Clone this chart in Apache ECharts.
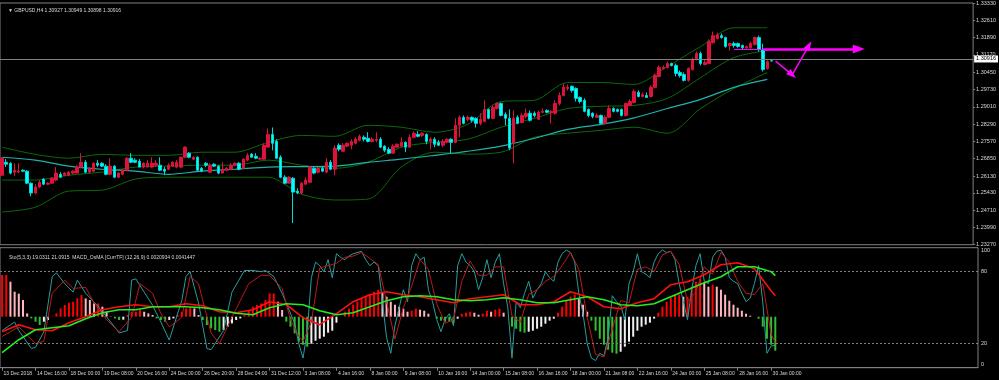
<!DOCTYPE html>
<html><head><meta charset="utf-8">
<script src="https://cdn.jsdelivr.net/npm/echarts@6/dist/echarts.min.js"></script>
<style>html,body{margin:0;padding:0;background:#000;}#c{width:999px;height:380px;}</style>
</head><body><div id="c"></div>
<script>
// ---------- data ----------
const TOTAL_SLOTS = 234;          // bars + right-hand empty space (chart shift)
const labelEvery = 8;
const timeLabels = ['13 Dec 2018','14 Dec 16:00','18 Dec 00:00','19 Dec 08:00','20 Dec 16:00','24 Dec 00:00','26 Dec 20:00','28 Dec 04:00','31 Dec 12:00','3 Jan 08:00','4 Jan 16:00','8 Jan 00:00','9 Jan 08:00','10 Jan 16:00','14 Jan 00:00','15 Jan 08:00','16 Jan 16:00','18 Jan 00:00','21 Jan 08:00','22 Jan 16:00','24 Jan 00:00','25 Jan 08:00','28 Jan 16:00','30 Jan 00:00'];
const priceTicks = [1.33330,1.32610,1.31890,1.31170,1.30450,1.29730,1.29010,1.28290,1.27570,1.26850,1.26130,1.25430,1.24710,1.23990,1.23270];
const stochTicks = [0,20,80,100];
const currentPrice = 1.30916;

const opens = [
1.2616,1.2670,1.2666,1.2629,1.2629,1.2637,1.2633,1.2583,1.2542,1.2567,
1.2600,1.2579,1.2583,1.2596,1.2620,1.2616,1.2616,1.2625,1.2625,1.2650,
1.2670,1.2629,1.2633,1.2666,1.2666,1.2654,1.2620,1.2654,1.2608,1.2620,
1.2637,1.2687,1.2679,1.2674,1.2650,1.2650,1.2650,1.2658,1.2658,1.2641,
1.2641,1.2654,1.2650,1.2650,1.2691,1.2708,1.2683,1.2691,1.2645,1.2666,
1.2629,1.2662,1.2654,1.2625,1.2637,1.2641,1.2658,1.2666,1.2645,1.2679,
1.2704,1.2695,1.2683,1.2683,1.2733,1.2786,1.2757,1.2691,1.2608,1.2583,
1.2604,1.2550,1.2542,1.2579,1.2587,1.2645,1.2629,1.2645,1.2629,1.2670,
1.2641,1.2741,1.2716,1.2737,1.2741,1.2749,1.2762,1.2774,1.2770,1.2757,
1.2762,1.2766,1.2737,1.2724,1.2708,1.2733,1.2737,1.2753,1.2733,1.2774,
1.2786,1.2782,1.2786,1.2757,1.2766,1.2753,1.2741,1.2753,1.2766,1.2753,
1.2824,1.2857,1.2849,1.2857,1.2853,1.2832,1.2840,1.2890,1.2853,1.2894,
1.2915,1.2869,1.2853,1.2749,1.2857,1.2836,1.2861,1.2874,1.2874,1.2849,
1.2878,1.2886,1.2878,1.2874,1.2915,1.2948,1.2977,1.2986,1.2977,1.2940,
1.2928,1.2890,1.2874,1.2857,1.2865,1.2832,1.2857,1.2894,1.2890,1.2890,
1.2865,1.2907,1.2919,1.2961,1.2944,1.2948,1.2944,1.2982,1.3027,1.3060,
1.3065,1.3081,1.3073,1.3044,1.3035,1.3011,1.3056,1.3098,1.3123,1.3077,
1.3081,1.3168,1.3185,1.3197,1.3189,1.3156,1.3164,1.3164,1.3156,1.3147,
1.3147,1.3160,1.3189,1.3139,1.3060,1.30927];
const closes = [
1.2687,1.2662,1.2625,1.2637,1.2633,1.2633,1.2583,1.2542,1.2567,1.2587,
1.2579,1.2583,1.2604,1.2625,1.2608,1.2625,1.2629,1.2633,1.2650,1.2670,
1.2629,1.2645,1.2666,1.2658,1.2654,1.2620,1.2654,1.2608,1.2625,1.2637,
1.2687,1.2670,1.2670,1.2650,1.2666,1.2666,1.2666,1.2666,1.2637,1.2633,
1.2658,1.2670,1.2670,1.2691,1.2733,1.2691,1.2691,1.2637,1.2633,1.2658,
1.2658,1.2654,1.2625,1.2641,1.2645,1.2658,1.2666,1.2641,1.2683,1.2699,
1.2691,1.2687,1.2687,1.2741,1.2786,1.2749,1.2687,1.2608,1.2583,1.2608,
1.2546,1.2542,1.2583,1.2596,1.2650,1.2625,1.2645,1.2633,1.2670,1.2641,
1.2729,1.2724,1.2741,1.2749,1.2757,1.2766,1.2778,1.2766,1.2757,1.2766,
1.2766,1.2733,1.2720,1.2708,1.2737,1.2745,1.2753,1.2733,1.2774,1.2791,
1.2778,1.2791,1.2757,1.2766,1.2745,1.2741,1.2757,1.2766,1.2753,1.2824,
1.2857,1.2832,1.2857,1.2845,1.2832,1.2849,1.2890,1.2853,1.2899,1.2915,
1.2865,1.2853,1.2729,1.2853,1.2832,1.2865,1.2874,1.2845,1.2865,1.2878,
1.2882,1.2878,1.2882,1.2915,1.2948,1.2982,1.2982,1.2969,1.2936,1.2923,
1.2882,1.2865,1.2861,1.2865,1.2832,1.2857,1.2894,1.2882,1.2882,1.2865,
1.2915,1.2923,1.2965,1.2944,1.2952,1.2940,1.2982,1.3031,1.3065,1.3065,
1.3081,1.3073,1.3040,1.3031,1.3011,1.3060,1.3098,1.3123,1.3081,1.3085,
1.3172,1.3197,1.3201,1.3189,1.3152,1.3164,1.3156,1.3152,1.3147,1.3152,
1.3164,1.3189,1.3139,1.3056,1.3089,1.30916];
const lows = [
1.2612,1.2650,1.2620,1.2612,1.2625,1.2629,1.2579,1.2529,1.2537,1.2562,
1.2575,1.2575,1.2579,1.2591,1.2604,1.2612,1.2612,1.2620,1.2625,1.2645,
1.2625,1.2625,1.2629,1.2650,1.2650,1.2616,1.2616,1.2604,1.2604,1.2616,
1.2633,1.2666,1.2666,1.2650,1.2645,1.2650,1.2645,1.2650,1.2633,1.2616,
1.2637,1.2650,1.2645,1.2645,1.2687,1.2687,1.2679,1.2633,1.2629,1.2650,
1.2625,1.2650,1.2620,1.2625,1.2633,1.2637,1.2654,1.2637,1.2641,1.2674,
1.2691,1.2683,1.2679,1.2679,1.2733,1.2720,1.2683,1.2604,1.2579,1.2583,
1.2417,1.2537,1.2537,1.2575,1.2583,1.2620,1.2625,1.2629,1.2625,1.2637,
1.2616,1.2716,1.2712,1.2733,1.2724,1.2745,1.2757,1.2757,1.2753,1.2753,
1.2753,1.2729,1.2712,1.2704,1.2708,1.2733,1.2733,1.2712,1.2733,1.2770,
1.2774,1.2774,1.2745,1.2724,1.2733,1.2737,1.2733,1.2749,1.2708,1.2749,
1.2774,1.2828,1.2840,1.2836,1.2815,1.2824,1.2836,1.2849,1.2849,1.2890,
1.2861,1.2824,1.2720,1.2666,1.2828,1.2832,1.2853,1.2840,1.2857,1.2845,
1.2874,1.2874,1.2832,1.2869,1.2907,1.2944,1.2969,1.2961,1.2923,1.2915,
1.2878,1.2857,1.2853,1.2857,1.2828,1.2828,1.2853,1.2878,1.2878,1.2861,
1.2861,1.2903,1.2915,1.2940,1.2940,1.2940,1.2940,1.2977,1.3023,1.3056,
1.3060,1.3069,1.3027,1.3023,1.3006,1.3006,1.3052,1.3094,1.3073,1.3073,
1.3081,1.3164,1.3181,1.3185,1.3147,1.3135,1.3147,1.3147,1.3139,1.3143,
1.3143,1.3156,1.3131,1.3048,1.3056,1.30898];
const highs = [
1.2691,1.2683,1.2670,1.2666,1.2666,1.2641,1.2637,1.2587,1.2579,1.2596,
1.2604,1.2587,1.2608,1.2650,1.2629,1.2629,1.2633,1.2637,1.2658,1.2708,
1.2679,1.2650,1.2670,1.2679,1.2670,1.2662,1.2687,1.2658,1.2629,1.2641,
1.2691,1.2708,1.2687,1.2683,1.2670,1.2679,1.2691,1.2679,1.2691,1.2650,
1.2666,1.2674,1.2679,1.2695,1.2737,1.2712,1.2695,1.2695,1.2650,1.2670,
1.2666,1.2666,1.2658,1.2670,1.2650,1.2666,1.2670,1.2670,1.2687,1.2708,
1.2708,1.2708,1.2691,1.2749,1.2811,1.2815,1.2766,1.2699,1.2616,1.2612,
1.2608,1.2562,1.2587,1.2608,1.2654,1.2650,1.2650,1.2650,1.2687,1.2679,
1.2741,1.2749,1.2749,1.2753,1.2766,1.2774,1.2786,1.2782,1.2795,1.2774,
1.2795,1.2774,1.2741,1.2733,1.2745,1.2749,1.2774,1.2757,1.2786,1.2799,
1.2799,1.2795,1.2791,1.2774,1.2774,1.2762,1.2766,1.2770,1.2770,1.2853,
1.2865,1.2865,1.2865,1.2861,1.2857,1.2874,1.2928,1.2894,1.2907,1.2919,
1.2919,1.2878,1.2890,1.2886,1.2865,1.2874,1.2894,1.2886,1.2882,1.2886,
1.2894,1.2890,1.2886,1.2928,1.2961,1.2998,1.2994,1.2990,1.2982,1.2944,
1.2936,1.2894,1.2878,1.2874,1.2869,1.2865,1.2907,1.2899,1.2894,1.2894,
1.2919,1.2932,1.2973,1.2969,1.2961,1.2961,1.2990,1.3040,1.3073,1.3073,
1.3089,1.3085,1.3081,1.3052,1.3044,1.3065,1.3106,1.3131,1.3131,1.3098,
1.3181,1.3214,1.3210,1.3206,1.3193,1.3168,1.3172,1.3168,1.3160,1.3156,
1.3172,1.3193,1.3197,1.3164,1.3094,1.30949];

// Bollinger bands and moving average, read every 8 bars
const lineStep = 8;
const bbUpper  = [1.2733,1.2703,1.2687,1.2703,1.2699,1.2699,1.2712,1.2712,1.2753,1.2782,1.2778,1.2824,1.2816,1.2795,1.2828,1.2923,1.2928,1.3002,1.3002,1.2994,1.3069,1.3152,1.3230,1.3230];
const bbMiddle = [1.2596,1.2596,1.2616,1.2629,1.2650,1.2654,1.2658,1.2658,1.2679,1.2658,1.2645,1.2670,1.2733,1.2753,1.2766,1.2816,1.2853,1.2894,1.2903,1.2907,1.2936,1.3023,1.3106,1.3135];
const bbLower  = [1.2463,1.2483,1.2550,1.2554,1.2600,1.2608,1.2608,1.2608,1.2608,1.2537,1.2513,1.2517,1.2650,1.2712,1.2704,1.2712,1.2774,1.2791,1.2803,1.2816,1.2791,1.2894,1.2977,1.3044];
const maLine   = [1.2691,1.2679,1.2654,1.2641,1.2633,1.2620,1.2633,1.2641,1.2650,1.2652,1.2654,1.2670,1.2683,1.2699,1.2716,1.2737,1.2770,1.2807,1.2828,1.2855,1.2894,1.2932,1.2982,1.3015];

// Stochastic (5,3,3): [bar, value]
const stochMain = [[0,31],[3,38],[4,31],[7,16],[8,17],[10,30],[12,76],[13,79],[15,70],[17,63],[18,73],[20,62],[23,51],[26,38],[28,29],[30,31],[31,73],[32,74],[34,63],[36,52],[38,38],[40,23],[43,56],[44,76],[45,80],[47,54],[49,16],[50,15],[53,31],[55,63],[58,81],[60,81],[62,80],[63,81],[65,76],[67,62],[70,37],[71,20],
[72,8],[73,30],[74,75],[75,88],[76,85],[77,80],[78,90],[79,75],[80,95],[81,92],[82,90],[83,93],[84,95],[86,97],[87,90],[88,85],[89,88],[90,85],[91,55],[92,25],[93,12],[94,35],[95,50],[96,65],[97,55],[98,85],[99,95],[100,90],[101,92],[102,65],[103,55],[104,40],[105,30],[106,40],[107,45],[108,35],[109,85],[110,95],[111,88],[112,85],[113,80],[114,65],[115,75],[116,90],[117,75],[118,88],[119,95],[120,70],[121,50],[122,8],[123,55],[124,50],[125,62],[126,72],[127,58],[128,65],[129,70],[130,80],[131,75],[132,72],[133,88],[134,95],[135,98],[136,96],[137,88],[138,62],[139,45],[140,20],[141,8],[142,6],[143,12],[144,10],[145,25],[146,60],[147,55],[148,52],[149,40],[150,70],[151,80],[152,95],[153,80],[154,78],[155,75],[156,88],[157,95],[158,98],[159,96],[160,97],[161,90],[162,70],[163,55],[164,40],[165,65],[166,85],[167,95],[168,72],[169,70],[170,92],[171,97],[172,98],[173,92],[174,75],[175,72],[176,70],[177,62],[178,55],[179,58],[180,70],[181,85],[182,55],[183,12],[184,18],[185,19]];
const stochSignal = [[0,26],[4,34],[8,20],[10,22],[12,62],[15,73],[17,66],[20,67],[22,54],[25,40],[28,30],[31,42],[33,70],[36,62],[38,45],[40,34],[43,42],[45,76],[47,70],[50,29],[52,20],[55,42],[59,70],[62,77],[64,77],[67,66],[69,40],[71,26],
[72,22],[74,38],[76,83],[78,85],[80,87],[82,92],[84,93],[86,96],[88,91],[90,86],[92,55],[94,24],[96,50],[98,68],[100,90],[102,82],[104,53],[106,37],[108,40],[110,72],[112,89],[114,77],[116,77],[118,84],[120,84],[122,43],[124,38],[126,61],[128,65],[130,72],[132,76],[134,85],[136,96],[138,82],[140,42],[142,11],[144,9],[146,32],[148,56],[150,54],[152,82],[154,84],[156,80],[158,94],[160,97],[162,86],[164,55],[166,63],[168,84],[170,78],[172,96],[174,88],[176,72],[178,62],[180,61],[182,70],[184,28],[185,21]];

// MACD (12,26,9) in pips: [bar, value]
const macdMain = [[0,-15],[4,-8],[8,-13],[12,-14],[16,-6],[20,0],[24,7],[28,10],[32,12],[36,10],[40,10],[44,13],[48,11],[52,5],[56,4],[60,7],[64,15],[68,12],[72,-1],[76,-8],[80,3],[84,15],[88,22],[92,25],[96,22],[100,20],[104,17],[108,14],[112,18],[116,20],[120,22],[124,12],[128,12],[132,15],[136,25],[140,20],[144,10],[148,8],[152,14],[156,18],[160,32],[164,35],[168,42],[172,52],[176,54],[180,48],[184,26],[185,21]];
const macdSignal = [[0,-36],[4,-23],[8,-13],[12,-11],[16,-9],[20,-2],[24,4],[28,7],[32,7],[36,10],[40,10],[44,10],[48,9],[52,7],[56,3.5],[60,2],[64,9],[68,13],[72,12],[76,6],[80,2],[84,4],[88,10],[92,16],[96,20],[100,21],[104,20],[108,17],[112,16],[116,17],[120,19],[124,17],[128,14],[132,14],[136,17],[140,20],[144,17],[148,12],[152,11],[156,13],[160,20],[164,27],[168,34],[172,40],[176,50],[180,50],[184,45],[185,41]];
// OsMA histogram, one value per bar (pips)
const osma = [
41.7,41.7,35,25,23,16.7,3.3,-1.7,-5,-8.3,
-5,-3.3,0.3,3.3,8.3,11.7,14,15,18.3,21.7,
18.3,16.7,13.3,13.3,10,5,0.3,-1.7,-3.3,-3,
1.7,5,5,6.7,5,3.3,1.7,-1.7,-3.3,-5,
-3.3,-1.7,1.7,5,8.3,9.3,8.3,1.7,-3.3,-8.3,
-11.7,-13.3,-15,-13.3,-10,-6.7,-3.3,-1.7,1.7,6.7,
10,11.7,13.3,16.7,23.3,23.3,15,6.7,-5,-10,
-16.7,-25,-28,-30,-27,-24,-22,-20,-16,-14,
-6,0,5,8,12,15,19,21,23,25,
27,24,20,15,12,10,8,5,6,8,
7,6,3,0,-2,-4,-5,-5,-6,-2,
3,4,5,4,2,3,6,5,7,8,
4,0,-10,-12,-15,-16,-15,-14,-12,-10,
-7,-4,-2,4,10,16,20,22,18,12,
5,-4,-14,-22,-28,-33,-36,-37,-35,-30,
-25,-20,-14,-10,-8,-6,-2,4,10,15,
19,22,22,20,20,30,35,38,34,30,
32,30,27,22,16,12,9,6,3,1,
0,-2,-10,-22,-28,-34];

// hand-drawn magenta objects: [fromBar, fromPrice, toBar, toPrice, width, arrowW, arrowL]
const drawSegments = [
  [176, 1.3142, 183, 1.3142, 1, 0, 0],
  [183, 1.3142, 206, 1.3142, 2.5, 9, 12],
  [186, 1.3091, 190, 1.3034, 1.5, 7, 10],
  [190, 1.3034, 194, 1.3156, 1.5, 7, 10]
];

// ---------- build ----------
const N = TOTAL_SLOTS;
const cats = Array.from({length: N}, (_, i) => 'b' + i);
const candles = opens.map((o, i) => [o, closes[i], lows[i], highs[i]]);
function spread(arr, step) {
  const out = new Array(N).fill(null);
  arr.forEach((v, k) => { out[k * step] = v; });
  return out;
}
function place(pairs) {
  const out = new Array(N).fill(null);
  pairs.forEach(([i, v]) => { out[i] = v; });
  return out;
}
const osmaBars = osma.map((v, i) => {
  const prev = i > 0 ? osma[i - 1] : v;
  let c;
  if (v >= 0) c = v >= prev ? '#ff0000' : '#ffb6c1';
  else c = v <= prev ? '#2fbf2f' : '#f0f0f0';
  return {value: v, itemStyle: {color: c}};
});

const FONT = '"Liberation Sans", Arial, sans-serif';
const txt = '#d8d8d8';
const grey = '#808080';
const labelInt = (i) => i % labelEvery === 0 && i / labelEvery < timeLabels.length;

const chart = echarts.init(document.getElementById('c'), null, {renderer: 'canvas'});
const bandSeries = (name, data, color, w) => ({
  name, type: 'line', xAxisIndex: 0, yAxisIndex: 0, data: spread(data, lineStep),
  connectNulls: true, showSymbol: false, symbol: 'none', smooth: 0.3,
  lineStyle: {color, width: w}, silent: true, z: 2
});
const indLine = (name, data, yIdx, color, w, z) => ({
  name, type: 'line', xAxisIndex: 1, yAxisIndex: yIdx, data: place(data),
  connectNulls: true, showSymbol: false, symbol: 'none', smooth: false,
  lineStyle: {color, width: w}, silent: true, z
});

chart.setOption({
  backgroundColor: '#000',
  animation: false,
  textStyle: {fontFamily: FONT},
  title: [
    {text: '\u25BC GBPUSD,H4 1.30927 1.30949 1.30898 1.30916', left: 3, top: 3.5,
     textStyle: {color: txt, fontSize: 5, fontWeight: 'normal', fontFamily: FONT}},
    {text: 'Sto(5,3,3) 19.0311 21.0915  MACD_OsMA [CurrTF] (12,26,9) 0.0020934 0.0041447', left: 4, top: 250,
     textStyle: {color: txt, fontSize: 5, fontWeight: 'normal', fontFamily: FONT}}
  ],
  grid: [
    {left: 0, top: 2.3, width: 978, height: 242.4, show: true, borderColor: grey, borderWidth: 1, backgroundColor: 'transparent'},
    {left: 0, top: 247.7, width: 978, height: 120, show: true, borderColor: grey, borderWidth: 1, backgroundColor: 'transparent'}
  ],
  xAxis: [
    {type: 'category', gridIndex: 0, data: cats, boundaryGap: true,
     axisLine: {show: false}, axisTick: {show: false}, axisLabel: {show: false}, splitLine: {show: false}},
    {type: 'category', gridIndex: 1, data: cats, boundaryGap: true,
     axisLine: {show: true, lineStyle: {color: grey}},
     axisTick: {show: true, alignWithLabel: true, interval: labelInt, length: 3, lineStyle: {color: grey}},
     axisLabel: {interval: labelInt, formatter: (v, i) => timeLabels[i / labelEvery] || '',
                 showMinLabel: true, hideOverlap: false,
                 color: txt, fontSize: 5, align: 'left', margin: 3.5, padding: [0, 0, 0, 1.5], fontFamily: FONT},
     splitLine: {show: false}}
  ],
  yAxis: [
    {type: 'value', gridIndex: 0, position: 'right', min: 1.2327, max: 1.3333, scale: true,
     splitLine: {show: false}, axisLine: {show: false},
     axisTick: {show: true, customValues: priceTicks, length: 2, lineStyle: {color: grey}},
     axisLabel: {customValues: priceTicks, formatter: v => v.toFixed(5), color: txt, fontSize: 5.5, margin: 3, fontFamily: FONT}},
    {type: 'value', gridIndex: 1, position: 'right', min: 0, max: 100,
     splitLine: {show: false}, axisLine: {show: false},
     axisTick: {show: false, customValues: stochTicks},
     axisLabel: {customValues: stochTicks, color: txt, fontSize: 5.5, margin: 3, fontFamily: FONT,
                 verticalAlignMaxLabel: 'top', verticalAlignMinLabel: 'bottom'}},
    {type: 'value', gridIndex: 1, min: -51, max: 69, show: false}
  ],
  series: [
    bandSeries('bbUpper', bbUpper, '#0b6a0b', 1),
    bandSeries('bbMiddle', bbMiddle, '#0b6a0b', 1),
    bandSeries('bbLower', bbLower, '#0b6a0b', 1),
    bandSeries('ma', maLine, '#20b2aa', 1.2),
    {
      name: 'GBPUSD', type: 'candlestick', xAxisIndex: 0, yAxisIndex: 0, data: candles,
      barWidth: 3, z: 3,
      itemStyle: {color: '#dc143c', color0: '#00ffff', borderColor: '#dc143c', borderColor0: '#00d8d8', borderWidth: 1},
      markLine: {
        silent: true, symbol: 'none', animation: false,
        data: [{yAxis: currentPrice}],
        lineStyle: {color: grey, width: 1, type: 'solid'},
        label: {position: 'end', formatter: currentPrice.toFixed(5), backgroundColor: '#ffffff', color: '#000',
                fontSize: 5.5, padding: [1, 2, 0, 2], distance: 1, fontFamily: FONT}
      }
    },
    {
      name: 'drawings', type: 'line', xAxisIndex: 0, yAxisIndex: 0, data: [], z: 5,
      markLine: {
        silent: true, animation: false, label: {show: false},
        data: drawSegments.map(s => {
          const ls = {color: '#ff00ff', width: s[4], type: 'solid'};
          return [
            {coord: [cats[s[0]], s[1]], symbol: 'none', lineStyle: ls},
            {coord: [cats[s[2]], s[3]], symbol: s[5] ? 'triangle' : 'none', symbolSize: [s[5] || 1, s[6] || 1],
             itemStyle: {color: '#ff00ff'}, lineStyle: ls}
          ];
        })
      }
    },
    {
      name: 'OsMA', type: 'bar', xAxisIndex: 1, yAxisIndex: 2, data: osmaBars, barWidth: 2, silent: true, z: 2
    },
    indLine('stochMain', stochMain, 1, '#2a9d9d', 1, 3),
    indLine('stochSignal', stochSignal, 1, '#c01818', 1, 3),
    indLine('macdMain', macdMain, 2, '#ff1010', 1.6, 4),
    indLine('macdSignal', macdSignal, 2, '#22ee22', 1.6, 4),
    {
      name: 'levels', type: 'line', xAxisIndex: 1, yAxisIndex: 1, data: new Array(N).fill(null),
      markLine: {silent: true, symbol: 'none', animation: false, label: {show: false},
        lineStyle: {color: grey, width: 1, type: [2, 2]},
        data: [{yAxis: 80}, {yAxis: 20}]}
    }
  ]
});
</script></body></html>
